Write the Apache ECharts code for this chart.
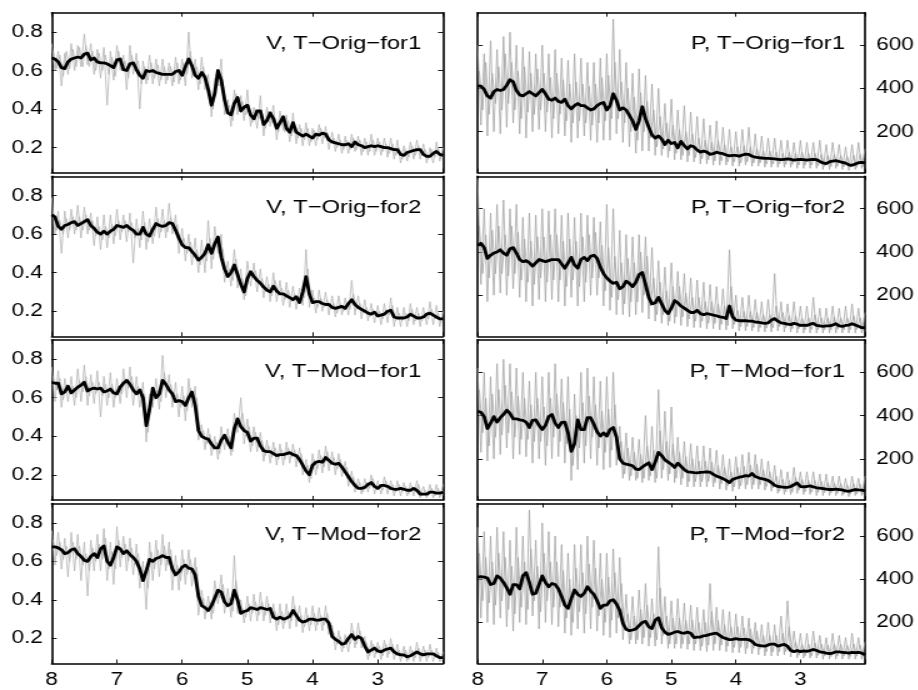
<!DOCTYPE html>
<html><head><meta charset="utf-8">
<script src="https://cdn.jsdelivr.net/npm/echarts@6/dist/echarts.min.js"></script>
<style>
html,body{margin:0;padding:0;background:#fff;overflow:hidden;width:918px;height:690px}
#c{width:734.4px;height:690px;transform:scaleX(1.25);transform-origin:0 0}
</style>
</head><body><div id="c"></div>
<script>
// shared x grids (reversed axis from 8 down to 2)
const XS = [8,7.95,7.9,7.85,7.8,7.75,7.7,7.65,7.6,7.55,7.5,7.45,7.4,7.35,7.3,7.25,7.2,7.15,7.1,7.05,7,6.95,6.9,6.85,6.8,6.75,6.7,6.65,6.6,6.55,6.5,6.45,6.4,6.35,6.3,6.25,6.2,6.15,6.1,6.05,6,5.95,5.9,5.85,5.8,5.75,5.7,5.65,5.6,5.55,5.5,5.45,5.4,5.35,5.3,5.25,5.2,5.15,5.1,5.05,5,4.95,4.9,4.85,4.8,4.75,4.7,4.65,4.6,4.55,4.5,4.45,4.4,4.35,4.3,4.25,4.2,4.15,4.1,4.05,4,3.95,3.9,3.85,3.8,3.75,3.7,3.65,3.6,3.55,3.5,3.45,3.4,3.35,3.3,3.25,3.2,3.15,3.1,3.05,3,2.95,2.9,2.85,2.8,2.75,2.7,2.65,2.6,2.55,2.5,2.45,2.4,2.35,2.3,2.25,2.2,2.15,2.1,2.05,2];
const XS_MID = [7.975,7.925,7.875,7.825,7.775,7.725,7.675,7.625,7.575,7.525,7.475,7.425,7.375,7.325,7.275,7.225,7.175,7.125,7.075,7.025,6.975,6.925,6.875,6.825,6.775,6.725,6.675,6.625,6.575,6.525,6.475,6.425,6.375,6.325,6.275,6.225,6.175,6.125,6.075,6.025,5.975,5.925,5.875,5.825,5.775,5.725,5.675,5.625,5.575,5.525,5.475,5.425,5.375,5.325,5.275,5.225,5.175,5.125,5.075,5.025,4.975,4.925,4.875,4.825,4.775,4.725,4.675,4.625,4.575,4.525,4.475,4.425,4.375,4.325,4.275,4.225,4.175,4.125,4.075,4.025,3.975,3.925,3.875,3.825,3.775,3.725,3.675,3.625,3.575,3.525,3.475,3.425,3.375,3.325,3.275,3.225,3.175,3.125,3.075,3.025,2.975,2.925,2.875,2.825,2.775,2.725,2.675,2.625,2.575,2.525,2.475,2.425,2.375,2.325,2.275,2.225,2.175,2.125,2.075,2.025];
const X_TICK_LABELS = [8,7,6,5,4,3];
const V_TICKS = [0.2,0.4,0.6,0.8];
const P_TICKS = [200,400,600];
const TITLES = ['V, T−Orig−for1','V, T−Orig−for2','V, T−Mod−for1','V, T−Mod−for2','P, T−Orig−for1','P, T−Orig−for2','P, T−Mod−for1','P, T−Mod−for2'];

// V, T-Orig-for1
const V_ORIG1_SMOOTH = [0.665,0.66,0.645,0.615,0.61,0.645,0.66,0.665,0.67,0.665,0.685,0.69,0.655,0.665,0.645,0.64,0.64,0.635,0.625,0.615,0.655,0.66,0.605,0.6,0.635,0.64,0.605,0.575,0.56,0.6,0.595,0.6,0.59,0.585,0.58,0.58,0.58,0.58,0.595,0.6,0.575,0.62,0.66,0.625,0.575,0.56,0.59,0.565,0.5,0.42,0.48,0.6,0.55,0.45,0.38,0.37,0.43,0.46,0.39,0.41,0.42,0.37,0.35,0.39,0.39,0.32,0.34,0.38,0.35,0.3,0.33,0.36,0.3,0.28,0.33,0.28,0.27,0.26,0.27,0.26,0.25,0.27,0.265,0.275,0.27,0.24,0.23,0.225,0.22,0.215,0.215,0.22,0.205,0.23,0.215,0.21,0.2,0.205,0.21,0.205,0.21,0.205,0.2,0.2,0.195,0.19,0.19,0.165,0.16,0.175,0.18,0.185,0.19,0.19,0.165,0.155,0.155,0.17,0.18,0.165,0.16];
const V_ORIG1_RAW = [0.74,0.6,0.7,0.52,0.69,0.58,0.74,0.6,0.73,0.62,0.79,0.63,0.74,0.58,0.71,0.56,0.72,0.42,0.7,0.55,0.73,0.6,0.68,0.5,0.73,0.58,0.69,0.4,0.65,0.53,0.68,0.53,0.66,0.52,0.66,0.53,0.64,0.52,0.67,0.53,0.66,0.52,0.8,0.56,0.66,0.5,0.67,0.5,0.58,0.36,0.56,0.52,0.66,0.37,0.45,0.31,0.5,0.37,0.47,0.34,0.5,0.31,0.41,0.3,0.47,0.26,0.41,0.31,0.42,0.24,0.39,0.29,0.37,0.23,0.38,0.22,0.32,0.21,0.33,0.21,0.3,0.21,0.32,0.22,0.31,0.19,0.28,0.18,0.27,0.17,0.26,0.17,0.27,0.18,0.26,0.16,0.25,0.16,0.27,0.16,0.25,0.16,0.25,0.15,0.25,0.14,0.24,0.12,0.21,0.13,0.23,0.14,0.24,0.14,0.22,0.12,0.2,0.12,0.23,0.13,0.2];
const V_ORIG1_RAW_MID = [0.7,0.61,0.68,0.57,0.7,0.61,0.71,0.62,0.72,0.62,0.73,0.62,0.7,0.6,0.69,0.6,0.68,0.58,0.67,0.57,0.7,0.6,0.65,0.56,0.68,0.6,0.65,0.53,0.62,0.55,0.64,0.56,0.63,0.55,0.62,0.55,0.62,0.54,0.64,0.55,0.64,0.58,0.7,0.58,0.62,0.53,0.62,0.52,0.5,0.4,0.58,0.52,0.54,0.4,0.42,0.34,0.48,0.4,0.44,0.37,0.42,0.33,0.4,0.35,0.38,0.3,0.39,0.33,0.35,0.28,0.36,0.28,0.34,0.26,0.32,0.25,0.3,0.24,0.3,0.23,0.29,0.24,0.3,0.25,0.28,0.22,0.25,0.2,0.24,0.19,0.24,0.19,0.25,0.19,0.24,0.18,0.23,0.18,0.24,0.18,0.23,0.18,0.22,0.17,0.22,0.16,0.2,0.14,0.19,0.15,0.21,0.16,0.21,0.16,0.19,0.14,0.19,0.15,0.2,0.14];
// V, T-Orig-for2
const V_ORIG2_SMOOTH = [0.70,0.69,0.64,0.625,0.645,0.65,0.66,0.665,0.645,0.655,0.665,0.675,0.645,0.63,0.61,0.6,0.615,0.6,0.615,0.625,0.645,0.64,0.635,0.645,0.63,0.62,0.6,0.6,0.635,0.6,0.59,0.625,0.655,0.645,0.64,0.645,0.66,0.655,0.62,0.58,0.545,0.53,0.53,0.51,0.49,0.465,0.48,0.5,0.545,0.5,0.55,0.585,0.48,0.42,0.38,0.4,0.44,0.39,0.34,0.3,0.37,0.405,0.38,0.36,0.345,0.325,0.31,0.3,0.33,0.305,0.29,0.29,0.28,0.27,0.26,0.275,0.245,0.3,0.38,0.29,0.245,0.25,0.25,0.24,0.235,0.235,0.22,0.215,0.22,0.225,0.215,0.24,0.26,0.235,0.22,0.21,0.2,0.19,0.185,0.195,0.175,0.18,0.185,0.2,0.205,0.17,0.165,0.165,0.165,0.17,0.185,0.175,0.165,0.165,0.17,0.185,0.19,0.18,0.17,0.16,0.16];
const V_ORIG2_RAW = [0.79,0.6,0.72,0.5,0.72,0.58,0.73,0.6,0.75,0.58,0.74,0.6,0.71,0.54,0.69,0.52,0.7,0.53,0.7,0.55,0.73,0.57,0.7,0.56,0.71,0.45,0.68,0.53,0.72,0.52,0.68,0.55,0.74,0.58,0.73,0.58,0.76,0.6,0.7,0.5,0.63,0.46,0.6,0.44,0.58,0.4,0.57,0.4,0.67,0.42,0.64,0.5,0.6,0.35,0.46,0.33,0.52,0.32,0.42,0.26,0.46,0.33,0.45,0.3,0.42,0.27,0.38,0.25,0.4,0.25,0.36,0.23,0.35,0.22,0.33,0.21,0.32,0.23,0.52,0.22,0.31,0.19,0.31,0.2,0.3,0.18,0.28,0.17,0.28,0.18,0.27,0.18,0.36,0.18,0.28,0.16,0.26,0.15,0.24,0.14,0.23,0.13,0.24,0.14,0.27,0.12,0.22,0.12,0.22,0.12,0.24,0.13,0.22,0.12,0.22,0.13,0.25,0.13,0.23,0.12,0.2];
const V_ORIG2_RAW_MID = [0.72,0.62,0.67,0.6,0.68,0.62,0.69,0.62,0.69,0.62,0.7,0.62,0.67,0.59,0.64,0.57,0.64,0.58,0.65,0.59,0.67,0.61,0.67,0.61,0.66,0.58,0.63,0.57,0.66,0.56,0.63,0.59,0.68,0.61,0.67,0.61,0.69,0.62,0.65,0.55,0.58,0.5,0.56,0.48,0.52,0.44,0.51,0.46,0.58,0.47,0.58,0.54,0.52,0.38,0.42,0.36,0.47,0.36,0.37,0.28,0.4,0.37,0.41,0.34,0.37,0.3,0.34,0.28,0.36,0.28,0.32,0.26,0.31,0.25,0.29,0.25,0.28,0.27,0.42,0.26,0.27,0.22,0.27,0.22,0.26,0.21,0.24,0.19,0.24,0.2,0.24,0.21,0.29,0.21,0.24,0.19,0.22,0.17,0.21,0.17,0.2,0.16,0.21,0.18,0.23,0.15,0.19,0.15,0.19,0.15,0.21,0.15,0.19,0.15,0.19,0.16,0.21,0.16,0.19,0.14];
// V, T-Mod-for1
const V_MOD1_SMOOTH = [0.68,0.675,0.675,0.62,0.63,0.66,0.625,0.64,0.655,0.665,0.68,0.635,0.645,0.65,0.645,0.65,0.63,0.635,0.645,0.625,0.62,0.655,0.675,0.69,0.67,0.64,0.62,0.64,0.6,0.455,0.54,0.65,0.6,0.62,0.69,0.67,0.64,0.62,0.58,0.585,0.58,0.56,0.6,0.63,0.56,0.43,0.4,0.39,0.385,0.36,0.34,0.34,0.38,0.405,0.37,0.34,0.44,0.49,0.45,0.43,0.42,0.375,0.39,0.39,0.35,0.325,0.32,0.32,0.31,0.3,0.305,0.305,0.31,0.315,0.305,0.3,0.28,0.25,0.22,0.2,0.25,0.265,0.27,0.265,0.29,0.275,0.26,0.255,0.26,0.24,0.215,0.19,0.165,0.145,0.13,0.13,0.135,0.15,0.16,0.14,0.13,0.145,0.145,0.14,0.13,0.125,0.125,0.13,0.125,0.12,0.12,0.13,0.12,0.1,0.1,0.1,0.11,0.11,0.105,0.105,0.11];
const V_MOD1_RAW = [0.76,0.58,0.74,0.55,0.7,0.58,0.71,0.56,0.75,0.58,0.77,0.56,0.72,0.57,0.74,0.5,0.71,0.56,0.73,0.55,0.7,0.57,0.75,0.6,0.76,0.56,0.71,0.55,0.68,0.37,0.62,0.55,0.7,0.54,0.82,0.6,0.72,0.55,0.68,0.5,0.66,0.48,0.7,0.55,0.66,0.38,0.46,0.33,0.44,0.3,0.4,0.28,0.45,0.33,0.44,0.3,0.52,0.42,0.6,0.36,0.49,0.32,0.45,0.32,0.42,0.27,0.38,0.26,0.37,0.25,0.36,0.25,0.37,0.26,0.36,0.24,0.34,0.2,0.28,0.16,0.31,0.2,0.33,0.21,0.35,0.22,0.32,0.2,0.31,0.19,0.27,0.14,0.22,0.11,0.18,0.1,0.18,0.11,0.2,0.1,0.17,0.1,0.19,0.1,0.17,0.09,0.17,0.09,0.16,0.09,0.16,0.09,0.17,0.08,0.14,0.08,0.15,0.08,0.15,0.08,0.15];
const V_MOD1_RAW_MID = [0.71,0.64,0.7,0.59,0.67,0.62,0.66,0.6,0.69,0.63,0.71,0.61,0.68,0.62,0.68,0.61,0.67,0.6,0.67,0.6,0.66,0.62,0.7,0.65,0.71,0.62,0.66,0.6,0.62,0.42,0.58,0.6,0.64,0.58,0.73,0.64,0.67,0.6,0.62,0.55,0.61,0.53,0.65,0.59,0.6,0.4,0.43,0.36,0.41,0.33,0.37,0.31,0.41,0.37,0.4,0.32,0.48,0.45,0.52,0.4,0.45,0.35,0.42,0.35,0.38,0.3,0.35,0.29,0.34,0.28,0.33,0.28,0.34,0.29,0.33,0.27,0.31,0.22,0.25,0.18,0.28,0.23,0.3,0.24,0.32,0.25,0.29,0.23,0.28,0.21,0.24,0.17,0.19,0.13,0.16,0.11,0.16,0.13,0.18,0.12,0.15,0.12,0.17,0.12,0.15,0.11,0.15,0.11,0.14,0.1,0.14,0.11,0.15,0.09,0.12,0.09,0.13,0.09,0.13,0.09];
// V, T-Mod-for2
const V_MOD2_SMOOTH = [0.675,0.675,0.67,0.66,0.64,0.645,0.66,0.665,0.64,0.625,0.605,0.6,0.625,0.64,0.62,0.665,0.68,0.6,0.58,0.62,0.675,0.665,0.64,0.655,0.635,0.62,0.6,0.56,0.5,0.55,0.61,0.6,0.615,0.62,0.63,0.62,0.62,0.56,0.53,0.545,0.57,0.58,0.565,0.56,0.53,0.42,0.37,0.36,0.345,0.37,0.41,0.45,0.44,0.39,0.37,0.38,0.45,0.4,0.33,0.34,0.345,0.36,0.355,0.35,0.36,0.355,0.35,0.355,0.31,0.3,0.31,0.3,0.305,0.315,0.345,0.32,0.295,0.285,0.29,0.3,0.3,0.295,0.295,0.3,0.3,0.28,0.21,0.195,0.185,0.17,0.175,0.2,0.22,0.195,0.21,0.2,0.16,0.13,0.14,0.15,0.135,0.13,0.14,0.145,0.15,0.13,0.12,0.115,0.115,0.105,0.11,0.12,0.13,0.12,0.115,0.12,0.12,0.12,0.11,0.1,0.1];
const V_MOD2_RAW = [0.76,0.58,0.75,0.56,0.72,0.52,0.75,0.55,0.74,0.5,0.7,0.42,0.71,0.55,0.74,0.55,0.77,0.5,0.7,0.48,0.78,0.57,0.73,0.55,0.72,0.53,0.69,0.46,0.6,0.35,0.7,0.5,0.71,0.52,0.74,0.55,0.7,0.45,0.63,0.45,0.66,0.48,0.66,0.47,0.62,0.32,0.45,0.3,0.42,0.3,0.5,0.38,0.53,0.33,0.46,0.31,0.63,0.33,0.4,0.28,0.42,0.29,0.43,0.29,0.44,0.29,0.42,0.28,0.38,0.24,0.38,0.25,0.38,0.25,0.42,0.26,0.37,0.23,0.36,0.24,0.37,0.24,0.36,0.24,0.37,0.22,0.27,0.14,0.24,0.13,0.22,0.13,0.28,0.15,0.28,0.15,0.21,0.09,0.19,0.1,0.18,0.09,0.19,0.1,0.2,0.09,0.17,0.08,0.16,0.08,0.16,0.08,0.18,0.08,0.16,0.08,0.17,0.08,0.15,0.08,0.13];
const V_MOD2_RAW_MID = [0.71,0.63,0.7,0.61,0.68,0.6,0.7,0.61,0.68,0.58,0.64,0.55,0.67,0.6,0.69,0.61,0.72,0.56,0.65,0.56,0.71,0.62,0.69,0.6,0.67,0.58,0.64,0.52,0.55,0.46,0.65,0.56,0.66,0.58,0.68,0.58,0.66,0.52,0.58,0.5,0.61,0.53,0.61,0.52,0.57,0.38,0.41,0.33,0.39,0.33,0.45,0.41,0.48,0.36,0.41,0.34,0.5,0.37,0.36,0.31,0.38,0.33,0.39,0.32,0.39,0.32,0.38,0.31,0.34,0.27,0.34,0.28,0.34,0.29,0.37,0.29,0.32,0.26,0.32,0.27,0.33,0.27,0.32,0.27,0.33,0.25,0.23,0.17,0.21,0.15,0.2,0.17,0.24,0.17,0.24,0.17,0.18,0.11,0.17,0.12,0.16,0.11,0.17,0.12,0.17,0.11,0.14,0.1,0.14,0.09,0.14,0.1,0.15,0.1,0.14,0.1,0.14,0.1,0.13,0.08];
// P, T-Orig-for1
const P_ORIG1_SMOOTH = [412,410,395,365,355,385,395,390,395,415,440,430,390,370,365,375,385,375,365,380,395,375,350,345,355,340,335,350,320,305,320,330,320,320,310,300,305,320,330,335,300,320,375,345,300,310,300,275,250,210,250,315,260,220,185,170,180,165,140,160,145,150,125,155,135,120,135,130,115,105,110,105,95,98,105,100,98,92,88,90,90,86,92,96,95,86,82,80,78,76,76,75,74,72,70,72,74,72,68,70,72,70,68,70,72,70,62,55,52,60,64,66,62,58,54,46,44,50,56,58,55];
const P_ORIG1_RAW = [600,230,560,180,620,200,580,190,640,220,660,240,600,190,590,170,570,200,560,210,600,200,560,170,580,190,540,180,530,150,560,170,540,180,520,160,520,150,540,160,560,160,720,190,580,150,520,130,470,100,490,110,460,110,420,90,400,90,330,80,350,70,300,70,320,60,290,60,270,50,260,50,230,45,250,45,220,45,210,40,200,40,210,45,220,40,190,40,180,35,170,35,170,35,160,35,160,35,150,30,160,30,150,30,150,30,160,25,140,25,150,30,140,25,130,20,140,25,150,30,120];
const P_ORIG1_RAW_MID = [480,300,520,280,470,330,500,300,560,330,520,300,480,260,500,290,470,280,490,300,470,290,450,260,470,280,440,250,420,240,430,250,420,240,410,230,420,240,450,250,460,260,520,260,430,240,400,200,360,160,380,200,340,170,300,130,270,120,240,110,230,100,210,90,200,90,190,80,170,75,160,70,150,65,160,65,140,60,130,60,130,55,135,60,130,55,120,55,110,50,110,50,105,50,100,48,105,48,100,45,105,45,100,45,100,42,95,40,90,38,95,40,90,38,85,35,90,35,95,38];
// P, T-Orig-for2
const P_ORIG2_SMOOTH = [430,440,420,370,385,395,400,410,395,385,415,420,395,365,355,360,350,335,350,365,360,355,360,365,365,365,345,325,350,375,340,325,365,375,360,380,385,370,330,300,280,265,255,260,230,240,265,255,240,260,295,305,250,190,160,165,190,160,130,115,140,175,165,150,140,130,120,120,130,115,110,115,112,108,105,100,98,92,150,100,85,82,82,82,80,80,76,75,72,70,72,85,92,80,72,70,66,64,70,66,60,62,60,66,70,60,58,56,58,58,62,68,58,56,60,62,68,62,56,50,50];
const P_ORIG2_RAW = [740,250,600,170,580,200,620,210,640,200,600,230,620,190,560,170,580,150,570,180,600,170,590,180,600,170,570,150,580,190,560,150,580,170,570,200,560,200,540,150,620,130,600,110,500,110,480,100,470,110,480,120,470,90,420,80,360,70,330,60,350,70,310,60,300,55,280,50,270,50,260,45,250,45,240,40,230,40,410,45,200,35,190,35,200,35,180,30,170,30,180,30,300,35,170,30,160,30,170,25,150,25,150,25,190,25,140,25,140,25,150,25,140,25,150,25,160,25,140,25,120];
const P_ORIG2_RAW_MID = [520,300,480,280,500,300,520,300,480,290,520,300,490,270,460,260,450,250,470,280,470,260,480,270,480,270,450,240,460,270,450,240,470,260,480,280,490,280,430,220,420,190,380,180,350,160,370,170,350,170,400,200,380,150,280,110,260,110,220,80,240,100,240,100,210,90,190,80,190,80,170,70,170,70,160,65,150,60,240,65,130,55,125,55,125,50,120,50,110,48,110,50,150,55,120,50,105,45,105,45,95,40,95,42,110,42,95,40,95,40,100,42,95,40,95,42,105,42,95,36];
// P, T-Mod-for1
const P_MOD1_SMOOTH = [420,415,395,340,365,395,370,390,405,425,410,385,385,380,378,370,345,378,380,355,335,355,395,405,365,345,368,370,320,235,270,380,335,335,390,390,360,325,305,320,305,335,345,300,200,180,175,172,168,152,150,162,172,182,150,185,230,215,195,185,175,160,180,165,150,140,138,136,135,137,138,140,138,128,120,115,108,100,90,105,110,115,118,122,120,132,118,112,108,105,100,90,78,72,70,68,68,72,80,88,72,70,72,75,70,66,64,62,60,58,58,60,58,56,52,50,54,58,56,55,52];
const P_MOD1_RAW = [620,230,600,190,580,200,640,220,660,250,640,200,620,220,600,210,560,180,600,200,580,170,600,200,640,210,570,180,580,100,500,150,600,180,620,200,580,170,560,150,580,160,600,170,350,110,320,100,300,100,290,90,400,100,350,90,520,110,420,100,440,90,300,80,280,70,270,70,260,70,260,70,250,70,240,60,220,55,200,50,210,60,220,60,230,60,220,60,200,55,190,50,170,40,150,35,140,35,160,40,140,35,140,35,140,30,130,30,130,30,120,30,120,30,110,25,120,30,110,30,120];
const P_MOD1_RAW_MID = [520,320,480,260,500,300,520,310,540,320,510,300,490,290,480,290,450,280,480,280,440,260,480,300,500,280,460,270,430,170,400,250,460,260,490,300,450,250,420,230,430,240,450,230,280,130,250,120,230,110,220,110,260,120,240,110,330,150,280,130,270,110,230,110,210,95,200,95,190,95,190,95,185,90,170,85,160,75,140,70,160,75,165,80,170,80,175,80,150,72,140,65,120,50,105,48,100,46,115,55,105,48,100,46,100,45,95,44,90,42,88,40,86,38,80,36,85,38,82,36];
// P, T-Mod-for2
const P_MOD2_SMOOTH = [410,412,410,405,375,380,415,405,385,360,330,375,375,355,415,430,385,330,335,375,415,385,365,380,375,355,320,280,265,310,350,330,320,335,365,345,330,300,265,280,280,300,305,285,255,195,168,162,165,170,185,200,205,180,172,210,222,175,155,145,148,155,158,152,150,155,150,130,132,132,138,140,145,148,150,140,130,125,120,122,125,122,122,122,120,112,98,94,92,90,96,100,100,90,95,98,90,70,65,70,65,68,66,70,75,70,64,62,58,56,58,64,64,62,60,58,62,60,62,58,50];
const P_MOD2_RAW = [640,220,620,200,600,190,640,220,620,180,580,160,640,200,600,190,720,230,580,170,660,200,620,190,600,180,560,150,520,140,560,170,560,150,600,170,580,160,520,140,520,130,540,150,500,120,330,100,320,100,350,100,380,90,310,90,550,100,320,80,300,80,310,80,290,75,280,70,270,70,260,65,380,70,270,70,260,65,250,60,240,60,230,55,220,55,200,50,190,45,200,45,190,45,230,50,300,40,160,35,150,35,150,35,160,35,140,30,130,30,150,30,140,30,130,30,150,30,130,30,110];
const P_MOD2_RAW_MID = [520,300,500,290,480,280,520,300,500,260,460,240,500,270,480,260,540,300,460,250,520,300,480,270,480,270,440,220,400,200,450,250,430,240,470,270,450,230,400,200,410,210,430,220,380,170,240,120,230,120,260,130,280,130,240,120,360,140,230,100,220,100,220,100,210,100,210,100,200,90,200,95,250,100,210,95,190,90,180,85,180,85,175,80,170,80,160,78,140,65,140,65,140,65,150,65,180,60,110,48,100,46,100,46,105,48,100,44,95,42,100,44,100,44,95,42,100,44,95,42];

const SMOOTH = [V_ORIG1_SMOOTH,V_ORIG2_SMOOTH,V_MOD1_SMOOTH,V_MOD2_SMOOTH,P_ORIG1_SMOOTH,P_ORIG2_SMOOTH,P_MOD1_SMOOTH,P_MOD2_SMOOTH];
const RAW = [V_ORIG1_RAW,V_ORIG2_RAW,V_MOD1_RAW,V_MOD2_RAW,P_ORIG1_RAW,P_ORIG2_RAW,P_MOD1_RAW,P_MOD2_RAW];
const RAW_MID = [V_ORIG1_RAW_MID,V_ORIG2_RAW_MID,V_MOD1_RAW_MID,V_MOD2_RAW_MID,P_ORIG1_RAW_MID,P_ORIG2_RAW_MID,P_MOD1_RAW_MID,P_MOD2_RAW_MID];

// layout (unstretched coordinates; the container is stretched horizontally by SX)
const SX = 1.25;
const W = 918 / SX;
const FONT = '"Liberation Sans", Arial, Helvetica, sans-serif';
const ROW_TOP = [12.7, 176.3, 339.9, 503.5];
const GH = 160;
const COL_LEFT = [51.7 / SX, 477.7 / SX];
const GW = 391.3 / SX;
const TITLE_RIGHT = [W - 421.7 / SX, W - 845.5 / SX];
const GRAY_V = '#b2b2b2';
const GRAY_P = '#a2a2a2';

const grid = [], xAxis = [], yAxis = [], series = [], title = [];
for (let p = 0; p < 8; p++) {
  const col = p < 4 ? 0 : 1, row = p % 4, isV = col === 0;
  grid.push({left: COL_LEFT[col], top: ROW_TOP[row], width: GW, height: GH, containLabel: false});
  ['bottom','top'].forEach(pos => {
    xAxis.push({
      type: 'value', gridIndex: p, position: pos, min: 2, max: 8, interval: row === 3 ? 1 : 2, inverse: true,
      axisLine: {show: true, onZero: false, lineStyle: {color: '#000', width: 1.6}},
      axisTick: {show: true, inside: true, length: 4, lineStyle: {color: '#000', width: 0.9}},
      axisLabel: {show: pos === 'bottom' && row === 3, margin: 8, color: '#000', fontSize: 18, fontFamily: FONT,
        customValues: X_TICK_LABELS},
      splitLine: {show: false}
    });
  });
  const ticks = isV ? V_TICKS : P_TICKS;
  ['left','right'].forEach(pos => {
    const lab = (isV && pos === 'left') || (!isV && pos === 'right');
    yAxis.push({
      type: 'value', gridIndex: p, position: pos, min: isV ? 0.07 : 10, max: isV ? 0.9 : 750,
      axisLine: {show: true, onZero: false, lineStyle: {color: '#000', width: 1.6}},
      axisTick: {show: true, inside: true, length: 4, customValues: ticks, lineStyle: {color: '#000', width: 0.9}},
      axisLabel: {show: lab, customValues: ticks, margin: isV ? 7 : 9, color: '#000', fontSize: 18, fontFamily: FONT},
      splitLine: {show: false}
    });
  });
  const gray = isV ? GRAY_V : GRAY_P;
  series.push({
    type: 'line', xAxisIndex: 2 * p, yAxisIndex: 2 * p, showSymbol: false, silent: true,
    lineStyle: {color: gray, width: 0.75},
    data: XS.map((x, i) => [x, RAW[p][i]])
  });
  series.push({
    type: 'line', xAxisIndex: 2 * p, yAxisIndex: 2 * p, showSymbol: false, silent: true,
    lineStyle: {color: gray, width: 0.75},
    data: XS_MID.map((x, i) => [x, RAW_MID[p][i]])
  });
  series.push({
    type: 'line', xAxisIndex: 2 * p, yAxisIndex: 2 * p, showSymbol: false, silent: true,
    lineStyle: {color: '#000', width: 2.8, join: 'round'},
    data: XS.map((x, i) => [x, SMOOTH[p][i]])
  });
  title.push({
    text: TITLES[p], right: TITLE_RIGHT[col], top: ROW_TOP[row] + 22, padding: 0,
    textStyle: {fontSize: 19, fontWeight: 'normal', color: '#000', fontFamily: FONT}
  });
}

const chart = echarts.init(document.getElementById('c'), null, {renderer: 'canvas'});
chart.setOption({backgroundColor: '#fff', animation: false, title, grid, xAxis, yAxis, series});
</script>
</body></html>
